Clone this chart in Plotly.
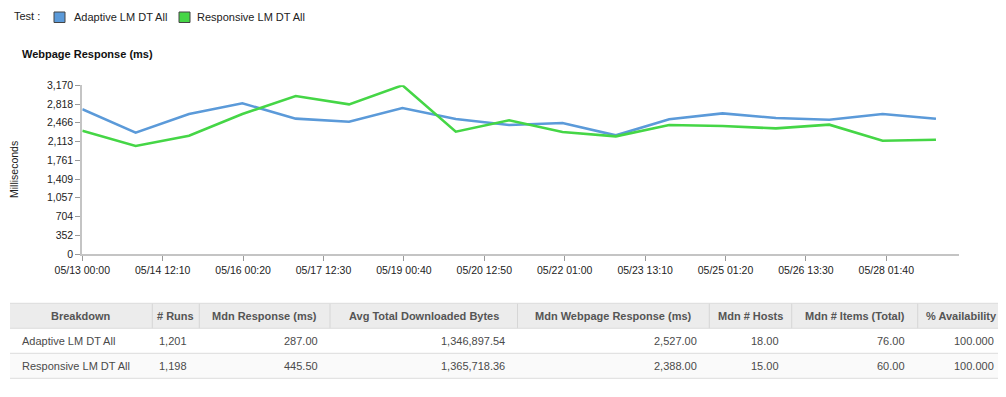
import plotly.graph_objects as go
from datetime import datetime

# ---------------- data ----------------
dates = ["2013-05-13", "2013-05-14", "2013-05-15", "2013-05-16", "2013-05-17",
         "2013-05-18", "2013-05-19", "2013-05-20", "2013-05-21", "2013-05-22",
         "2013-05-23", "2013-05-24", "2013-05-25", "2013-05-26", "2013-05-27",
         "2013-05-28", "2013-05-29"]
series_names = ["Adaptive LM DT All", "Responsive LM DT All"]
adaptive = [2719, 2280, 2631, 2831, 2543, 2486, 2743, 2537, 2424, 2461,
            2230, 2531, 2643, 2555, 2524, 2631, 2543]
responsive = [2317, 2029, 2223, 2631, 2969, 2812, 3170, 2298, 2512, 2292,
              2211, 2424, 2405, 2361, 2430, 2129, 2148]
series_colors = ["#5b9ad9", "#45d646"]

x_tick_labels = ["05/13 00:00", "05/14 12:10", "05/16 00:20", "05/17 12:30",
                 "05/19 00:40", "05/20 12:50", "05/22 01:00", "05/23 13:10",
                 "05/25 01:20", "05/26 13:30", "05/28 01:40"]
y_tick_labels = ["0", "352", "704", "1,057", "1,409", "1,761", "2,113",
                 "2,466", "2,818", "3,170"]
x_range = ["2013-05-13 00:00", "2013-05-29 10:30"]

table_header = ["Breakdown", "# Runs", "Mdn Response (ms)", "Avg Total Downloaded Bytes",
                "Mdn Webpage Response (ms)", "Mdn # Hosts", "Mdn # Items (Total)",
                "% Availability"]
col_breakdown = ["Adaptive LM DT All", "Responsive LM DT All"]
col_runs = ["1,201", "1,198"]
col_mdn_resp = ["287.00", "445.50"]
col_avg_bytes = ["1,346,897.54", "1,365,718.36"]
col_mdn_web = ["2,527.00", "2,388.00"]
col_hosts = ["18.00", "15.00"]
col_items = ["76.00", "60.00"]
col_avail = ["100.000", "100.000"]

# ---------------- layout helpers ----------------
PAGE_W, PAGE_H = 1006, 397
OFF = 8                      # default body margin of the html page
W, H = PAGE_W - OFF, PAGE_H - OFF

def px(x):
    return (x - OFF) / W

def py(y):
    return 1 - (y - OFF) / H

FONT = "Liberation Sans, Arial, Helvetica, sans-serif"

tickvals_x = [datetime.strptime("2013/" + t, "%Y/%m/%d %H:%M") for t in x_tick_labels]
tickvals_y = [float(t.replace(",", "")) for t in y_tick_labels]

fig = go.Figure()

for name, vals, col in zip(series_names, [adaptive, responsive], series_colors):
    fig.add_trace(go.Scatter(
        x=dates, y=vals, mode="lines", name=name,
        line=dict(color=col, width=2.6),
        showlegend=False, hoverinfo="x+y+name",
    ))

shapes = []
annotations = []

# ---------------- legend ----------------
annotations.append(dict(text="Test :", x=px(12), y=py(16), xref="paper", yref="paper",
                        xanchor="left", yanchor="middle", showarrow=False,
                        font=dict(family=FONT, size=11, color="#222222")))
legend_pos = [(54, 71.5), (179, 195)]
for (bx, tx), name, col in zip(legend_pos, series_names, series_colors):
    shapes.append(dict(type="rect", xref="paper", yref="paper",
                       x0=px(bx), x1=px(bx + 11), y0=py(22.5), y1=py(12),
                       fillcolor=col, line=dict(color="#444444", width=1)))
    annotations.append(dict(text=name, x=px(tx), y=py(16.5), xref="paper", yref="paper",
                            xanchor="left", yanchor="middle", showarrow=False,
                            font=dict(family=FONT, size=11, color="#222222")))

annotations.append(dict(text="<b>Webpage Response (ms)</b>", x=px(20), y=py(54),
                        xref="paper", yref="paper", xanchor="left", yanchor="middle",
                        showarrow=False, font=dict(family=FONT, size=11, color="#111111")))
annotations.append(dict(text="Milliseconds", x=px(14), y=py(170), xref="paper", yref="paper",
                        xanchor="center", yanchor="middle", textangle=-90, showarrow=False,
                        font=dict(family=FONT, size=10.5, color="#222222")))

# ---------------- table ----------------
col_edges = [10, 152.3, 199.3, 330, 517.5, 709.3, 791.7, 917.7, 1006]
header_top, header_bot = 303.3, 328.3
row_h = 25
columns = [col_breakdown, col_runs, col_mdn_resp, col_avg_bytes,
           col_mdn_web, col_hosts, col_items, col_avail]
n_rows = len(col_breakdown)
row_fill = ["#ffffff", "#fafafa"]

shapes.append(dict(type="rect", xref="paper", yref="paper", layer="below",
                   x0=px(col_edges[0]), x1=px(col_edges[-1]), y0=py(header_bot), y1=py(header_top),
                   fillcolor="#ececec", line=dict(width=0)))
for r in range(n_rows):
    y0 = header_bot + r * row_h
    shapes.append(dict(type="rect", xref="paper", yref="paper", layer="below",
                       x0=px(col_edges[0]), x1=px(col_edges[-1]), y0=py(y0 + row_h), y1=py(y0),
                       fillcolor=row_fill[r % 2], line=dict(width=0)))
for e in col_edges[1:-1]:
    shapes.append(dict(type="line", xref="paper", yref="paper",
                       x0=px(e), x1=px(e), y0=py(header_bot), y1=py(header_top),
                       line=dict(color="#d6d6d6", width=1)))
for k in range(n_rows + 2):
    yy = header_top if k == 0 else header_bot + (k - 1) * row_h
    shapes.append(dict(type="line", xref="paper", yref="paper",
                       x0=px(col_edges[0]), x1=px(col_edges[-1]), y0=py(yy), y1=py(yy),
                       line=dict(color="#dcdcdc", width=1)))

for c, head in enumerate(table_header):
    xc = (col_edges[c] + col_edges[c + 1]) / 2
    annotations.append(dict(text="<b>" + head + "</b>", x=px(xc), y=py((header_top + header_bot) / 2 + 0.5),
                            xref="paper", yref="paper", xanchor="center", yanchor="middle",
                            showarrow=False, font=dict(family=FONT, size=11, color="#555555")))
for c, colvals in enumerate(columns):
    for r, v in enumerate(colvals):
        yc = header_bot + r * row_h + row_h / 2 + 0.5
        if c == 0:
            xx, anchor = col_edges[c] + 10, "left"
        else:
            xx, anchor = col_edges[c + 1] - 10.5, "right"
        annotations.append(dict(text=v, x=px(xx), y=py(yc), xref="paper", yref="paper",
                                xanchor=anchor, yanchor="middle", showarrow=False,
                                font=dict(family=FONT, size=11, color="#4a4a4a")))

fig.update_layout(
    width=W, height=H, autosize=False,
    margin=dict(l=0, r=0, t=0, b=0, pad=0, autoexpand=False),
    paper_bgcolor="white", plot_bgcolor="white",
    font=dict(family=FONT, size=10.5, color="#222222"),
    showlegend=False,
    xaxis=dict(
        domain=[px(82.3), px(959.3)], type="date", automargin=False,
        range=x_range, tickvals=tickvals_x, ticktext=x_tick_labels,
        showgrid=False, zeroline=False, showline=True, linecolor="#c4c4c4", linewidth=2,
        ticks="outside", ticklen=5, tickwidth=1, tickcolor="#999999",
        tickfont=dict(family=FONT, size=10.5, color="#222222"),
    ),
    yaxis=dict(
        domain=[py(254), py(85.3)], automargin=False,
        range=[0, 3170], tickvals=tickvals_y, ticktext=y_tick_labels,
        showgrid=False, zeroline=False, showline=True, linecolor="#c4c4c4", linewidth=2,
        ticks="outside", ticklen=5, tickwidth=1, tickcolor="#999999",
        tickfont=dict(family=FONT, size=10.5, color="#222222"),
    ),
    shapes=shapes,
    annotations=annotations,
)

fig.write_html("out.html")
